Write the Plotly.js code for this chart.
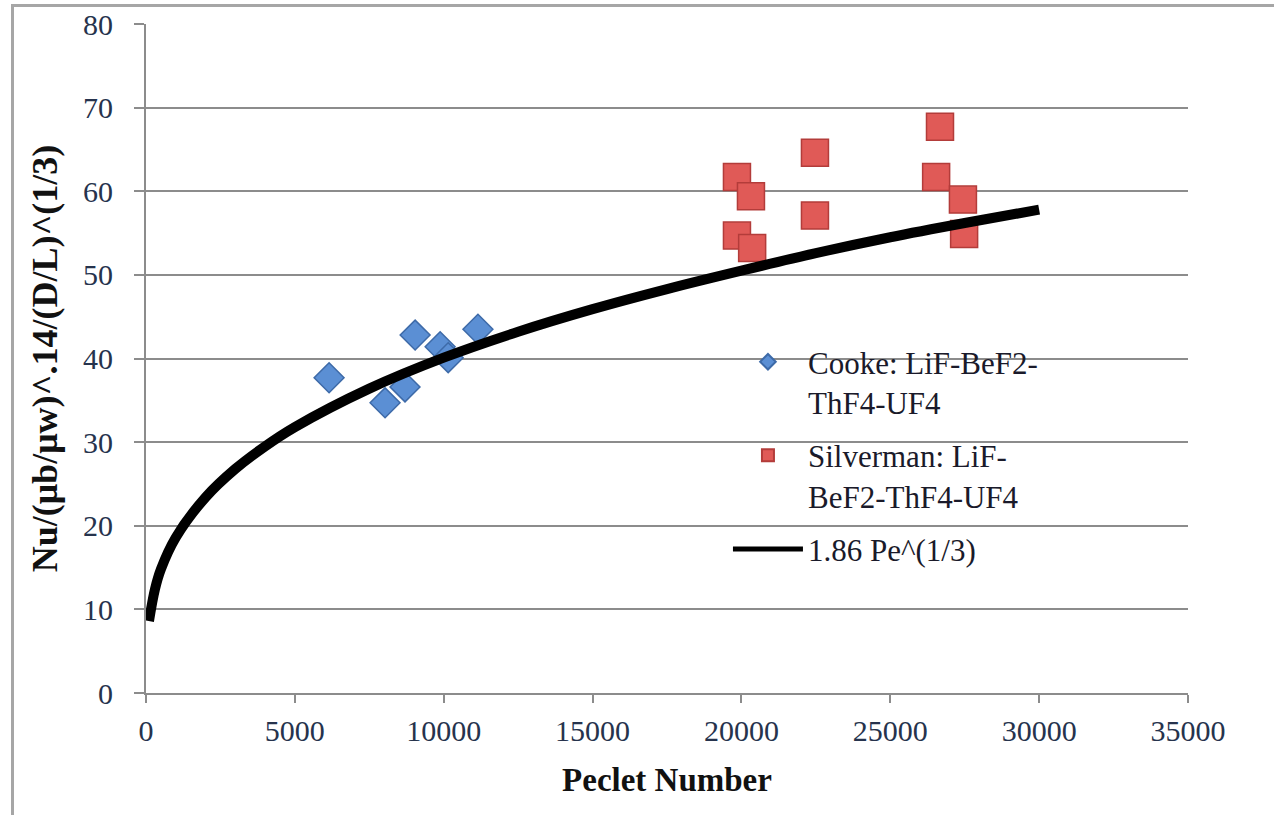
<!DOCTYPE html>
<html>
<head>
<meta charset="utf-8">
<script src="https://cdn.plot.ly/plotly-3.0.1.min.js"></script>
<style>
  html, body { margin: 0; padding: 0; background: #ffffff; }
  #frame { position: absolute; left: 11px; top: 4px; width: 1400px; height: 1000px;
           border-left: 3px solid #a6a6a6; border-top: 3px solid #a6a6a6; }
  #chart { position: absolute; left: 0; top: 0; width: 1274px; height: 815px; }
</style>
</head>
<body>
<div id="frame"></div>
<div id="chart"></div>
<script>
// Cooke: LiF-BeF2-ThF4-UF4
const cookePe = [6150, 8030, 8700, 9040, 9880, 10150, 11150];
const cookeNu = [37.7, 34.7, 36.6, 42.8, 41.4, 40.1, 43.5];

// Silverman: LiF-BeF2-ThF4-UF4
const silvPe = [19850, 20320, 19850, 20360, 22470, 22470, 26670, 26540, 27440, 27480];
const silvNu = [61.7, 59.4, 54.7, 53.2, 64.6, 57.1, 67.7, 61.7, 59.0, 54.9];

// 1.86 Pe^(1/3) curve
const curvePe = [100, 300, 500, 1000, 2000, 3000, 4000, 5000, 7500, 10000, 12500, 15000, 17500, 20000, 22500, 25000, 27500, 30000];
const curveNu = [8.6, 12.4, 14.8, 18.6, 23.4, 26.8, 29.5, 31.8, 36.4, 40.1, 43.2, 45.9, 48.3, 50.5, 52.6, 54.5, 56.2, 57.8];

const xTicks = [0, 5000, 10000, 15000, 20000, 25000, 30000, 35000];
const yTicks = [0, 10, 20, 30, 40, 50, 60, 70, 80];

const serif = '"Liberation Serif", "DejaVu Serif", serif';
const tickColor = '#26334d';

const traces = [
  {
    x: cookePe, y: cookeNu, type: 'scatter', mode: 'markers',
    name: 'Cooke: LiF-BeF2-<br>ThF4-UF4', legendgroup: 'a',
    marker: { symbol: 'diamond', size: 23, color: '#5b8fd4',
              line: { color: '#3d6aa8', width: 1.5 } }
  },
  {
    x: silvPe, y: silvNu, type: 'scatter', mode: 'markers',
    name: 'Silverman: LiF-<br>BeF2-ThF4-UF4', legendgroup: 'b',
    marker: { symbol: 'square', size: 27, color: '#e05a57',
              line: { color: '#b33c3a', width: 1.5 } }
  },
  {
    x: curvePe, y: curveNu, type: 'scatter', mode: 'lines',
    name: '1.86 Pe^(1/3)', legendgroup: 'c',
    line: { color: '#000000', width: 10, shape: 'spline' }
  }
];

const layout = {
  width: 1274, height: 815,
  margin: { l: 146, r: 86, t: 24, b: 122 },
  paper_bgcolor: 'rgba(0,0,0,0)',
  plot_bgcolor: 'rgba(0,0,0,0)',
  font: { family: serif, color: tickColor },
  showlegend: true,
  legend: {
    x: 0.5585, y: 0.535, xanchor: 'left', yanchor: 'top',
    bgcolor: 'rgba(0,0,0,0)',
    font: { family: serif, size: 31, color: '#1a1a2a' },
    traceorder: 'grouped',
    tracegroupgap: 10,
    valign: 'top',
    itemwidth: 70,
    itemsizing: 'constant'
  },
  xaxis: {
    range: [0, 35000],
    tickvals: xTicks,
    ticktext: xTicks.map(String),
    showgrid: false, zeroline: false,
    showline: true, linecolor: '#8c8c8c', linewidth: 2,
    ticks: 'outside', ticklen: 8, tickwidth: 2, tickcolor: '#8c8c8c',
    ticklabelstandoff: 2,
    tickfont: { family: serif, size: 30, color: tickColor },
    title: { text: '<b>Peclet Number</b>', font: { family: serif, size: 33, color: '#111111' }, standoff: 22 }
  },
  yaxis: {
    range: [0, 80],
    tickvals: yTicks,
    ticktext: yTicks.map(String),
    showgrid: true, gridcolor: '#8c8c8c', gridwidth: 2,
    zeroline: false,
    showline: true, linecolor: '#8c8c8c', linewidth: 2,
    ticks: 'outside', ticklen: 10, tickwidth: 2, tickcolor: '#8c8c8c',
    ticklabelstandoff: 15,
    tickfont: { family: serif, size: 30, color: tickColor },
    title: { text: '<b>Nu/(μb/μw)^.14/(D/L)^(1/3)</b>', font: { family: serif, size: 36, color: '#111111' }, standoff: 14 }
  }
};

Plotly.newPlot('chart', traces, layout, { staticPlot: true, displayModeBar: false });
</script>
</body>
</html>
